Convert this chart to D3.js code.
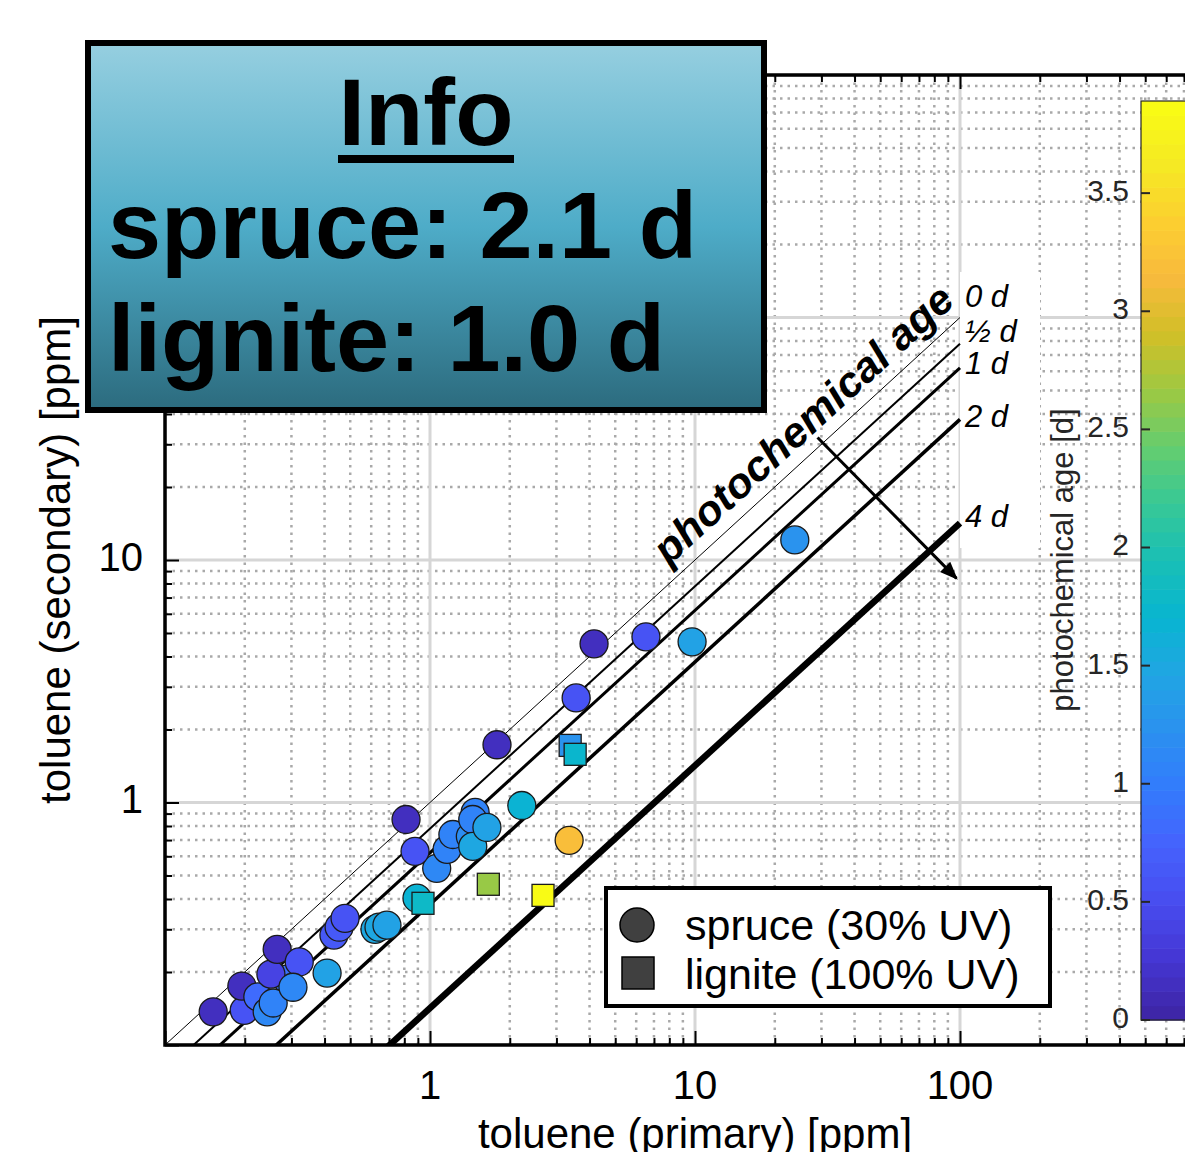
<!DOCTYPE html>
<html>
<head>
<meta charset="utf-8">
<script src="https://cdn.jsdelivr.net/npm/d3@7"></script>
<style>
body { margin: 0; background: #fff; }
svg { display: block; font-family: "Liberation Sans", Arial, sans-serif; }
</style>
</head>
<body>
<script>
// spruce (30% UV) - circles
const spruceX   = [0.152, 0.199, 0.195, 0.224, 0.288, 0.243, 0.256, 0.251, 0.265, 0.321, 0.304, 0.409, 0.434, 0.454, 0.478,
                   0.620, 0.642, 0.688, 0.893, 1.06, 0.812, 0.878, 1.16, 1.22, 1.42, 1.48, 1.45, 1.45, 1.64, 2.22,
                   3.35, 1.79, 3.56, 4.16, 6.53, 9.75, 23.8];
const spruceY   = [0.137, 0.139, 0.175, 0.158, 0.187, 0.137, 0.149, 0.196, 0.248, 0.220, 0.173, 0.198, 0.284, 0.306, 0.333,
                   0.300, 0.306, 0.312, 0.403, 0.535, 0.851, 0.629, 0.641, 0.738, 0.724, 0.910, 0.851, 0.659, 0.789, 0.972,
                   0.698, 1.73, 2.70, 4.51, 4.82, 4.60, 12.1];
const spruceAge = [0.15, 0.55, 0.15, 0.8, 0.9, 1.1, 1.05, 0.42, 0.15, 0.55, 1.1, 1.45, 0.65, 0.65, 0.6,
                   1.5, 1.5, 1.45, 1.65, 1.15, 0.15, 0.55, 1.05, 1.05, 1.2, 1.05, 1.05, 1.5, 1.4, 1.65,
                   3.2, 0.15, 0.6, 0.15, 0.55, 1.4, 1.25];

// lignite (100% UV) - squares
const ligniteX   = [0.941, 1.66, 2.67, 3.38, 3.53];
const ligniteY   = [0.384, 0.460, 0.414, 1.72, 1.58];
const ligniteAge = [1.8, 2.65, 3.89, 1.25, 1.75];

// photochemical age reference lines: secondary / primary ratio at each age
const ageLabels = ['0 d', '\u00bd d', '1 d', '2 d', '4 d'];
const ageRatio  = [1, 0.78, 0.62, 0.38, 0.142];

const infoLines = ['spruce: 2.1 d', 'lignite: 1.0 d'];
const xTickLabels = [1, 10, 100];
const yTickLabels = [1, 10];
const cbarTicks = [0, 0.5, 1, 1.5, 2, 2.5, 3, 3.5];
const ageMax = 3.89;

// parula
const parulaStops = ['#3e26a8', '#4537d5', '#484df0', '#4563fd', '#327cfc', '#2b91ef', '#20a5e3', '#08b5d0',
                     '#19bfb6', '#37c897', '#64cd6f', '#9dc943', '#d1bf27', '#f8ba3d', '#fccf30', '#f5e924', '#f9fb15'];
const parula = d3.piecewise(d3.interpolateRgb, parulaStops);
const nColors = 64;
function ageColor(v) {
    let i = Math.min(nColors - 1, Math.max(0, Math.floor(v / ageMax * nColors)));
    return parula(i / (nColors - 1));
}

const W = 1185, H = 1152;
const plot = {left: 165, right: 1225, top: 75, bottom: 1045};

let x = d3.scaleLog().domain([0.1, 1000]).range([plot.left, plot.right]);
let y = d3.scaleLog().domain([0.1, 1000]).range([plot.bottom, plot.top]);
let c = d3.scaleLinear().domain([0, ageMax]).range([1020, 101]);

let svg = d3.select('body').append('svg')
    .attr('width', W)
    .attr('height', H);

let defs = svg.append('defs');
defs.append('clipPath').attr('id', 'clip')
    .append('rect')
    .attr('x', plot.left).attr('y', plot.top)
    .attr('width', plot.right - plot.left).attr('height', plot.bottom - plot.top);

let grad = defs.append('linearGradient').attr('id', 'infoGrad')
    .attr('x1', 0).attr('y1', 0).attr('x2', 0).attr('y2', 1);
grad.append('stop').attr('offset', '0%').attr('stop-color', '#96cfe0');
grad.append('stop').attr('offset', '50%').attr('stop-color', '#4eacc8');
grad.append('stop').attr('offset', '100%').attr('stop-color', '#2c6b7e');

const isMajor = v => Math.abs(Math.log10(v) - Math.round(Math.log10(v))) < 1e-6;
let xMinor = x.ticks().filter(v => !isMajor(v));
let xMajor = x.ticks().filter(isMajor);
let yMinor = y.ticks().filter(v => !isMajor(v));
let yMajor = y.ticks().filter(isMajor);

// grid
let grid = svg.append('g').attr('clip-path', 'url(#clip)');
grid.selectAll('.xminor').data(xMinor).enter().append('line')
    .attr('x1', d => x(d)).attr('x2', d => x(d))
    .attr('y1', plot.top).attr('y2', plot.bottom)
    .attr('stroke', '#a9a9a9').attr('stroke-width', 2.5).attr('stroke-dasharray', '2.5,5');
grid.selectAll('.yminor').data(yMinor).enter().append('line')
    .attr('y1', d => y(d)).attr('y2', d => y(d))
    .attr('x1', plot.left).attr('x2', plot.right)
    .attr('stroke', '#a9a9a9').attr('stroke-width', 2.5).attr('stroke-dasharray', '2.5,5');
grid.selectAll('.xmajor').data(xMajor).enter().append('line')
    .attr('x1', d => x(d)).attr('x2', d => x(d))
    .attr('y1', plot.top).attr('y2', plot.bottom)
    .attr('stroke', '#d6d6d6').attr('stroke-width', 3);
grid.selectAll('.ymajor').data(yMajor).enter().append('line')
    .attr('y1', d => y(d)).attr('y2', d => y(d))
    .attr('x1', plot.left).attr('x2', plot.right)
    .attr('stroke', '#d6d6d6').attr('stroke-width', 3);

// white panel behind the age labels
svg.append('rect')
    .attr('x', x(100)).attr('y', 272)
    .attr('width', 80).attr('height', 276)
    .attr('fill', '#fff');

// age lines
const ageWidth = [1, 2, 3, 3.5, 6.5];
let lineGen = d3.line().x(d => x(d[0])).y(d => y(d[1]));
let lines = svg.append('g').attr('clip-path', 'url(#clip)');
lines.selectAll('path').data(ageRatio).enter().append('path')
    .attr('d', r => lineGen([[0.1, 0.1 * r], [100, 100 * r]]))
    .attr('fill', 'none')
    .attr('stroke', '#000')
    .attr('stroke-width', (d, i) => ageWidth[i]);

const labelNudge = [-19, -10, -2, -1, -4];
svg.selectAll('.agelabel').data(ageLabels).enter().append('text')
    .attr('x', x(100) + 5)
    .attr('y', (d, i) => y(100 * ageRatio[i]) + labelNudge[i])
    .attr('dominant-baseline', 'middle')
    .attr('font-size', 31)
    .attr('font-style', 'italic')
    .text(d => d);

// "photochemical age" text along the 0 d line
let ang = -Math.atan((y(1) - y(10)) / (x(10) - x(1))) * 180 / Math.PI;
svg.append('text')
    .attr('transform', `translate(${x(8.6)},${y(8.6)}) rotate(${ang})`)
    .attr('y', -13)
    .attr('font-size', 42)
    .attr('font-weight', 'bold')
    .attr('font-style', 'italic')
    .attr('textLength', 390)
    .attr('lengthAdjust', 'spacingAndGlyphs')
    .text('photochemical age');

// arrow
const arrowFrom = [29, 32], arrowTo = [97, 8.4];
defs.append('marker').attr('id', 'arrowhead')
    .attr('viewBox', '0 0 10 10').attr('refX', 9).attr('refY', 5)
    .attr('markerWidth', 6).attr('markerHeight', 6)
    .attr('markerUnits', 'strokeWidth').attr('orient', 'auto')
    .append('path').attr('d', 'M0,1 L10,5 L0,9 z').attr('fill', '#000');
svg.append('line')
    .attr('x1', x(arrowFrom[0])).attr('y1', y(arrowFrom[1]))
    .attr('x2', x(arrowTo[0])).attr('y2', y(arrowTo[1]))
    .attr('stroke', '#000').attr('stroke-width', 3)
    .attr('marker-end', 'url(#arrowhead)');

// markers
let spruce = spruceX.map((v, i) => ({x: v, y: spruceY[i], age: spruceAge[i]}));
let lignite = ligniteX.map((v, i) => ({x: v, y: ligniteY[i], age: ligniteAge[i]}));

svg.append('g').selectAll('circle').data(spruce).enter().append('circle')
    .attr('cx', d => x(d.x))
    .attr('cy', d => y(d.y))
    .attr('r', 14)
    .attr('fill', d => ageColor(d.age))
    .attr('stroke', '#1a1a1a')
    .attr('stroke-width', 1.3);

const sq = 22;
svg.append('g').selectAll('rect').data(lignite).enter().append('rect')
    .attr('x', d => x(d.x) - sq / 2)
    .attr('y', d => y(d.y) - sq / 2)
    .attr('width', sq).attr('height', sq)
    .attr('fill', d => ageColor(d.age))
    .attr('stroke', '#1a1a1a')
    .attr('stroke-width', 1.3);

// axes (ticks point inward)
function styleAxis(sel) {
    sel.select('.domain').remove();
    sel.selectAll('.tick line').attr('stroke', '#000').attr('stroke-width', 2);
    sel.selectAll('.tick text').remove();
}
svg.append('g').attr('transform', `translate(0,${plot.bottom})`)
    .call(d3.axisBottom(x).tickValues(xMinor).tickSize(-7)).call(styleAxis);
svg.append('g').attr('transform', `translate(0,${plot.bottom})`)
    .call(d3.axisBottom(x).tickValues(xMajor).tickSize(-14)).call(styleAxis);
svg.append('g').attr('transform', `translate(0,${plot.top})`)
    .call(d3.axisTop(x).tickValues(xMinor).tickSize(-7)).call(styleAxis);
svg.append('g').attr('transform', `translate(0,${plot.top})`)
    .call(d3.axisTop(x).tickValues(xMajor).tickSize(-14)).call(styleAxis);
svg.append('g').attr('transform', `translate(${plot.left},0)`)
    .call(d3.axisLeft(y).tickValues(yMinor).tickSize(-7)).call(styleAxis);
svg.append('g').attr('transform', `translate(${plot.left},0)`)
    .call(d3.axisLeft(y).tickValues(yMajor).tickSize(-14)).call(styleAxis);

// frame
svg.append('path')
    .attr('d', `M${W},${plot.top} H${plot.left} V${plot.bottom} H${W}`)
    .attr('fill', 'none').attr('stroke', '#000').attr('stroke-width', 3.5);

// tick labels
svg.selectAll('.xlab').data(xTickLabels).enter().append('text')
    .attr('x', d => x(d)).attr('y', 1099)
    .attr('text-anchor', 'middle')
    .attr('font-size', 40)
    .text(d => d);
svg.selectAll('.ylab').data(yTickLabels).enter().append('text')
    .attr('x', 143).attr('y', d => y(d))
    .attr('text-anchor', 'end')
    .attr('dominant-baseline', 'middle')
    .attr('font-size', 40)
    .text(d => d);

// axis titles
svg.append('text')
    .attr('x', (x(1) + x(100)) / 2).attr('y', 1148)
    .attr('text-anchor', 'middle')
    .attr('font-size', 42)
    .text('toluene (primary) [ppm]');
svg.append('text')
    .attr('transform', `translate(70,560) rotate(-90)`)
    .attr('text-anchor', 'middle')
    .attr('font-size', 42)
    .text('toluene (secondary) [ppm]');

// colorbar
let cbX = 1141, cbW = 60;
let bandH = (c(0) - c(ageMax)) / nColors;
svg.append('g').selectAll('rect').data(d3.range(nColors)).enter().append('rect')
    .attr('x', cbX)
    .attr('y', i => c(0) - (i + 1) * bandH)
    .attr('width', cbW)
    .attr('height', bandH + 0.6)
    .attr('fill', i => parula(i / (nColors - 1)));
svg.append('rect')
    .attr('x', cbX).attr('y', c(ageMax))
    .attr('width', cbW).attr('height', c(0) - c(ageMax))
    .attr('fill', 'none').attr('stroke', '#262626').attr('stroke-width', 1.2);
svg.selectAll('.cbtick').data(cbarTicks).enter().append('line')
    .attr('x1', cbX).attr('x2', cbX + 9)
    .attr('y1', d => c(d)).attr('y2', d => c(d))
    .attr('stroke', '#262626').attr('stroke-width', 2);
svg.selectAll('.cblab').data(cbarTicks).enter().append('text')
    .attr('x', 1129).attr('y', d => c(d))
    .attr('text-anchor', 'end')
    .attr('dominant-baseline', 'middle')
    .attr('font-size', 30)
    .attr('fill', '#262626')
    .text(d => d);
svg.append('text')
    .attr('transform', `translate(1073,560) rotate(-90)`)
    .attr('text-anchor', 'middle')
    .attr('font-size', 31)
    .attr('fill', '#262626')
    .text('photochemical age [d]');

// legend
let leg = svg.append('g');
leg.append('rect')
    .attr('x', 606).attr('y', 888)
    .attr('width', 444).attr('height', 118)
    .attr('fill', '#fff').attr('stroke', '#000').attr('stroke-width', 4);
leg.append('circle')
    .attr('cx', 637).attr('cy', 925).attr('r', 17)
    .attr('fill', '#404040').attr('stroke', '#000').attr('stroke-width', 1.5);
leg.append('rect')
    .attr('x', 622).attr('y', 957).attr('width', 32).attr('height', 32)
    .attr('fill', '#404040').attr('stroke', '#000').attr('stroke-width', 1.5);
leg.append('text').attr('x', 685).attr('y', 940).attr('font-size', 43).text('spruce (30% UV)');
leg.append('text').attr('x', 685).attr('y', 989).attr('font-size', 43).text('lignite (100% UV)');

// info box
let info = svg.append('g');
info.append('rect')
    .attr('x', 88).attr('y', 43)
    .attr('width', 676).attr('height', 367)
    .attr('fill', 'url(#infoGrad)')
    .attr('stroke', '#000').attr('stroke-width', 6);
info.append('text')
    .attr('x', 426).attr('y', 145)
    .attr('text-anchor', 'middle')
    .attr('font-size', 95).attr('font-weight', 'bold')
    .attr('textLength', 175).attr('lengthAdjust', 'spacingAndGlyphs')
    .text('Info');
info.append('rect')
    .attr('x', 338).attr('y', 155).attr('width', 176).attr('height', 8)
    .attr('fill', '#000');
const infoWidths = [589, 557];
info.selectAll('.infoline').data(infoLines).enter().append('text')
    .attr('x', 108)
    .attr('y', (d, i) => 258 + i * 113)
    .attr('font-size', 95).attr('font-weight', 'bold')
    .attr('textLength', (d, i) => infoWidths[i]).attr('lengthAdjust', 'spacingAndGlyphs')
    .text(d => d);
</script>
</body>
</html>
